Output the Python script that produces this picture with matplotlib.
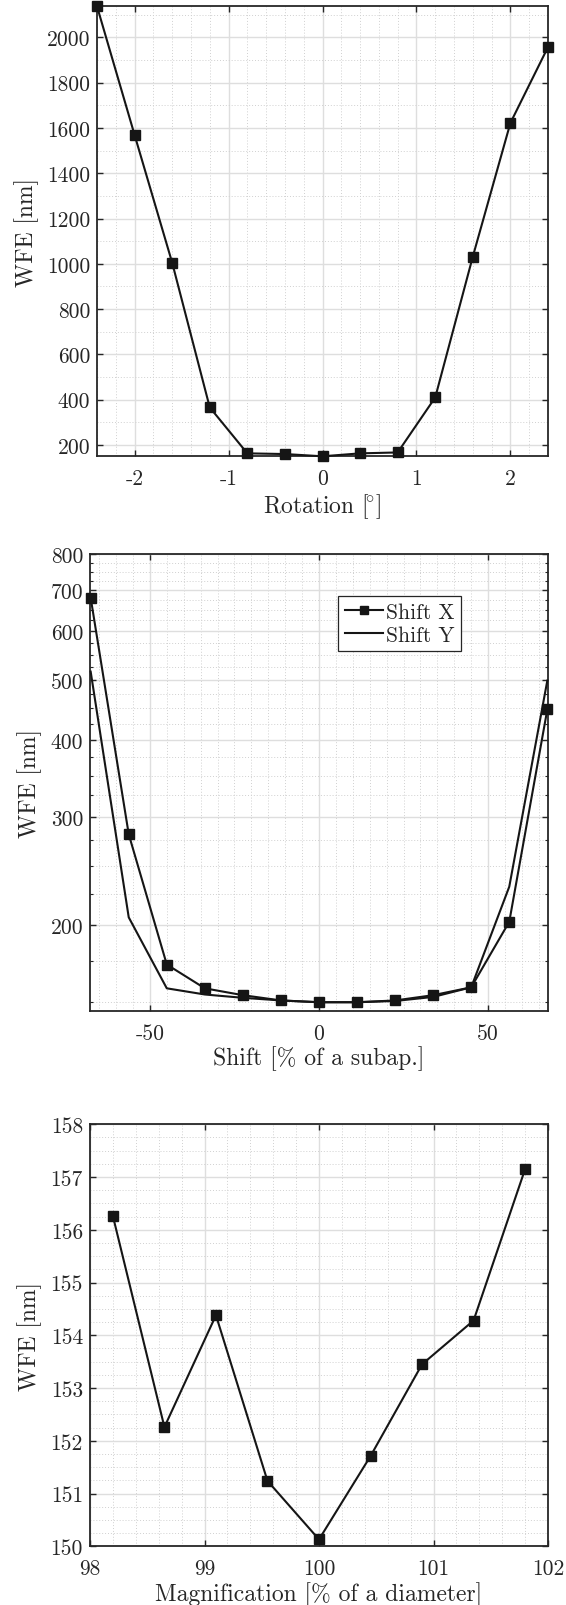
import numpy as np
from matplotlib import pyplot as plt
from matplotlib.ticker import FixedLocator, FixedFormatter, MultipleLocator, NullFormatter

# ---------------- data ----------------
rot_deg = [-2.4, -2.0, -1.6, -1.2, -0.8, -0.4, 0.0, 0.4, 0.8, 1.2, 1.6, 2.0, 2.4]
rot_wfe = [2137, 1569, 1005, 366, 163, 160, 150, 163, 167, 410, 1032, 1622, 1957]

shift_pct = [-67.5, -56.25, -45.0, -33.75, -22.5, -11.25, 0.0,
             11.25, 22.5, 33.75, 45.0, 56.25, 67.5]
shift_x_wfe = [680, 281, 172.7, 158, 154, 151, 150, 150, 151, 154, 158.6, 202.6, 448]
shift_y_wfe = [516, 206, 158, 154.4, 152.5, 151, 150, 150, 150.7, 153, 158.6, 231, 499]

mag_pct = [98.2, 98.65, 99.1, 99.55, 100.0, 100.45, 100.9, 101.35, 101.8]
mag_wfe = [156.26, 152.26, 154.38, 151.24, 150.13, 151.71, 153.45, 154.28, 157.15]

rot_xticks = [-2, -1, 0, 1, 2]
rot_xlabels = ['-2', '-1', '0', '1', '2']
rot_yticks = [200, 400, 600, 800, 1000, 1200, 1400, 1600, 1800, 2000]

shift_xticks = [-50, 0, 50]
shift_xlabels = ['-50', '0', '50']
shift_yticks = [200, 300, 400, 500, 600, 700, 800]
shift_yminor = [150, 175, 225, 250, 275, 325, 350, 375, 425, 450, 475,
                525, 550, 575, 625, 650, 675, 725, 750, 775]

mag_xticks = [98, 99, 100, 101, 102]
mag_yticks = [150, 151, 152, 153, 154, 155, 156, 157, 158]

AX_COL = '#262626'
LINE_COL = '#151515'
FS_TICK = 15.5
FS_LABEL = 17
LW = 1.5
MS = 6.5

plt.rcParams['font.family'] = 'serif'
plt.rcParams['font.serif'] = ['cmr10']
plt.rcParams['mathtext.fontset'] = 'cm'
plt.rcParams['axes.unicode_minus'] = False


def style_axes(ax, minor_ticks=False):
    for sp in ax.spines.values():
        sp.set_color(AX_COL)
        sp.set_linewidth(1.3)
    ax.tick_params(which='major', direction='in', top=True, right=True,
                   length=4, width=1.0, color=AX_COL, labelcolor=AX_COL,
                   labelsize=FS_TICK)
    ax.tick_params(axis='x', which='major', pad=9)
    ax.tick_params(axis='y', which='major', pad=5)
    ax.tick_params(which='minor', direction='in', top=True, right=True,
                   length=2.5 if minor_ticks else 0, width=0.8, color=AX_COL)
    ax.grid(True, which='major', color='#dedede', linewidth=1.0, linestyle='-')
    ax.grid(True, which='minor', color='#d0d0d0', linewidth=0.7, linestyle=(0, (1, 2)))
    ax.set_axisbelow(True)


fig = plt.figure(figsize=(5.66, 16.06), dpi=100)

# ---- rotation ----
ax1 = fig.add_axes([97 / 566, 1 - 457.3 / 1606, 451 / 566, 450 / 1606])
ax1.plot(rot_deg, rot_wfe, '-s', color=LINE_COL, lw=LW, ms=MS, clip_on=False, zorder=3)
ax1.set_xlim(-2.4, 2.4)
ax1.set_ylim(150, 2137)
ax1.xaxis.set_major_locator(FixedLocator(rot_xticks))
ax1.xaxis.set_major_formatter(FixedFormatter(rot_xlabels))
ax1.xaxis.set_minor_locator(MultipleLocator(0.2))
ax1.yaxis.set_major_locator(FixedLocator(rot_yticks))
ax1.yaxis.set_minor_locator(MultipleLocator(100))
style_axes(ax1)
ax1.set_xlabel(r'Rotation $[\!^{\circ}]$', fontsize=FS_LABEL, color=AX_COL)
ax1.set_ylabel('WFE [nm]', fontsize=FS_LABEL, color=AX_COL)
ax1.xaxis.set_label_coords(0.5, -0.078)
ax1.yaxis.set_label_coords(-0.128, 0.5)

# ---- shift ----
ax2 = fig.add_axes([90 / 566, 1 - 1012.3 / 1606, 458 / 566, 457 / 1606])
ax2.plot(shift_pct, shift_x_wfe, '-s', color=LINE_COL, lw=LW, ms=MS,
         clip_on=False, zorder=3, label='Shift X')
ax2.plot(shift_pct, shift_y_wfe, '-', color=LINE_COL, lw=LW,
         clip_on=False, zorder=3, label='Shift Y')
ax2.set_yscale('log')
ax2.set_xlim(-67.7, 67.7)
ax2.set_ylim(145, 800)
ax2.xaxis.set_major_locator(FixedLocator(shift_xticks))
ax2.xaxis.set_major_formatter(FixedFormatter(shift_xlabels))
ax2.xaxis.set_minor_locator(MultipleLocator(5))
ax2.yaxis.set_major_locator(FixedLocator(shift_yticks))
ax2.yaxis.set_major_formatter(FixedFormatter([str(v) for v in shift_yticks]))
ax2.yaxis.set_minor_locator(FixedLocator(shift_yminor))
ax2.yaxis.set_minor_formatter(NullFormatter())
style_axes(ax2)
ax2.tick_params(axis='y', which='minor', length=2.5)
ax2.tick_params(axis='x', which='minor', length=0)
ax2.set_xlabel('Shift [% of a subap.]', fontsize=FS_LABEL, color=AX_COL)
ax2.set_ylabel('WFE [nm]', fontsize=FS_LABEL, color=AX_COL)
ax2.xaxis.set_label_coords(0.5, -0.074)
ax2.yaxis.set_label_coords(-0.104, 0.5)
leg = ax2.legend(loc='upper left', bbox_to_anchor=(0.542, 0.909), borderaxespad=0,
                 fontsize=FS_TICK, fancybox=False, framealpha=1, edgecolor=AX_COL,
                 handlelength=1.8, handletextpad=0.1, borderpad=0.3, labelspacing=0.15,
                 markerscale=0.85)
leg.get_frame().set_linewidth(0.9)
for t in leg.get_texts():
    t.set_color(AX_COL)

# ---- magnification ----
ax3 = fig.add_axes([90 / 566, 1 - 1547.3 / 1606, 458 / 566, 422 / 1606])
ax3.plot(mag_pct, mag_wfe, '-s', color=LINE_COL, lw=LW, ms=MS, clip_on=False, zorder=3)
ax3.set_xlim(98, 102)
ax3.set_ylim(150, 158)
ax3.xaxis.set_major_locator(FixedLocator(mag_xticks))
ax3.xaxis.set_minor_locator(MultipleLocator(0.2))
ax3.yaxis.set_major_locator(FixedLocator(mag_yticks))
ax3.yaxis.set_minor_locator(MultipleLocator(0.25))
style_axes(ax3)
ax3.set_xlabel('Magnification [% of a diameter]', fontsize=FS_LABEL, color=AX_COL)
ax3.set_ylabel('WFE [nm]', fontsize=FS_LABEL, color=AX_COL)
ax3.xaxis.set_label_coords(0.5, -0.082)
ax3.yaxis.set_label_coords(-0.104, 0.5)

fig.savefig('out.png', dpi=100)
